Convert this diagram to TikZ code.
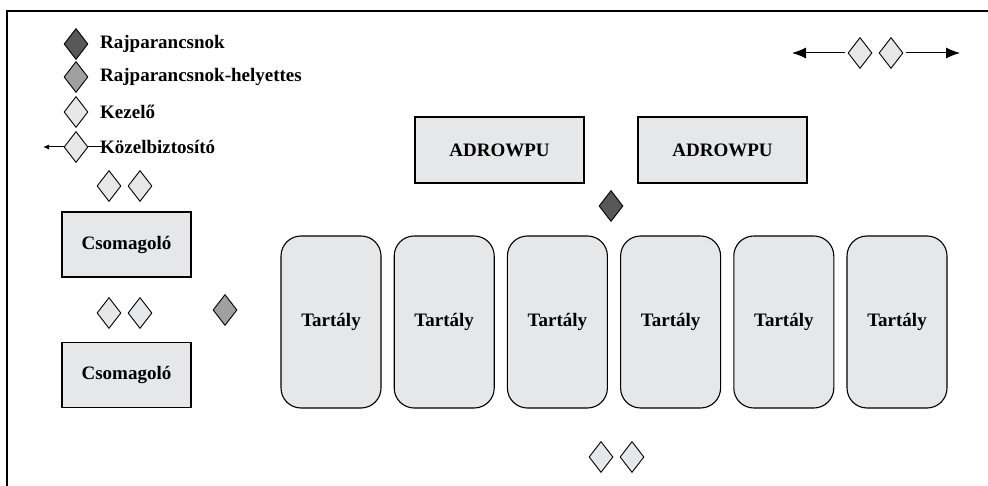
\documentclass[tikz,border=0pt]{standalone}
\usepackage{fontspec}
\setmainfont{Liberation Serif}
\usepackage{tikz}
\usetikzlibrary{shapes.geometric,arrows.meta,positioning}

\definecolor{boxgray}{RGB}{230,231,233}
\definecolor{midgray}{RGB}{160,160,162}
\definecolor{darkgray}{RGB}{88,88,90}

\begin{document}
\begin{tikzpicture}[x=1pt,y=-1pt,
  box/.style={draw,line width=1.1pt,fill=boxgray,minimum width=129pt,minimum height=65pt,font=\fontsize{19}{22}\selectfont\bfseries},
  tank/.style={draw,line width=1.1pt,fill=boxgray,rounded corners=20pt,minimum width=100pt,minimum height=172pt,font=\fontsize{19}{22}\selectfont\bfseries},
  man/.style={diamond,draw,line width=0.9pt,fill=boxgray,inner sep=0pt,minimum width=24pt,minimum height=31pt},
  legend/.style={anchor=west,inner sep=0pt,font=\fontsize{19}{22}\selectfont\bfseries},
  big arrow/.style={line width=1pt,-{Latex[length=14pt,width=11pt]}},
  small arrow/.style={line width=1pt,-{Latex[length=6pt,width=5pt]}}]
\useasboundingbox (0,0) rectangle (988,486);

% frame
\draw[line width=2pt] (7,486) -- (7,11) -- (988,11);

% legend
\node[man,fill=darkgray] (lg_1) at (76,44) {};
\node[man,fill=midgray]  (lg_2) at (76,77) {};
\node[man]               (lg_3) at (76,112) {};
\node[man]               (lg_4) at (76,147) {};
\coordinate (lg_tip) at (43,147);
\coordinate (lg_end) at (103,147);
\draw[small arrow] (lg_4.west) -- (lg_tip);
\draw[line width=1pt] (lg_4.east) -- (lg_end);
\node[legend] (txt_1) at (100,44) {Rajparancsnok};
\node[legend] (txt_2) at (100,77) {Rajparancsnok-helyettes};
\node[legend] (txt_3) at (100,112) {Kezel\H{o}};
\node[legend] (txt_4) at (100,147) {Közelbiztosító};

% top right
\node[man] (tr_1) at (860,53) {};
\node[man] (tr_2) at (891,53) {};
\coordinate (tr_l) at (792,53);
\coordinate (tr_r) at (960,53);
\draw[big arrow,shorten <=3pt] (tr_1.west) -- (tr_l);
\draw[big arrow,shorten <=3pt] (tr_2.east) -- (tr_r);

% packers
\node[man] (pk_1a) at (109,186) {};
\node[man] (pk_1b) at (140,186) {};
\node[box] (pack_1) at (126.5,244.5) {Csomagoló};
\node[man] (pk_2a) at (109,313) {};
\node[man] (pk_2b) at (140,313) {};
\node[box] (pack_2) at (126.5,375) {Csomagoló};
\node[man,fill=midgray] (deputy) at (225,310) {};

% ADROWPU
\node[box,minimum width=169pt,minimum height=66pt] (adr_1) at (499.5,150) {ADROWPU};
\node[box,minimum width=169pt,minimum height=66pt] (adr_2) at (722.5,150) {ADROWPU};
\node[man,fill=darkgray] (chief) at (611,206) {};

% tanks
\foreach \i in {0,...,5}
  \node[tank] (tank_\i) at (331+113.2*\i,322) {Tartály};

\node[man] (bt_a) at (601,457) {};
\node[man] (bt_b) at (632,457) {};
\end{tikzpicture}
\end{document}
